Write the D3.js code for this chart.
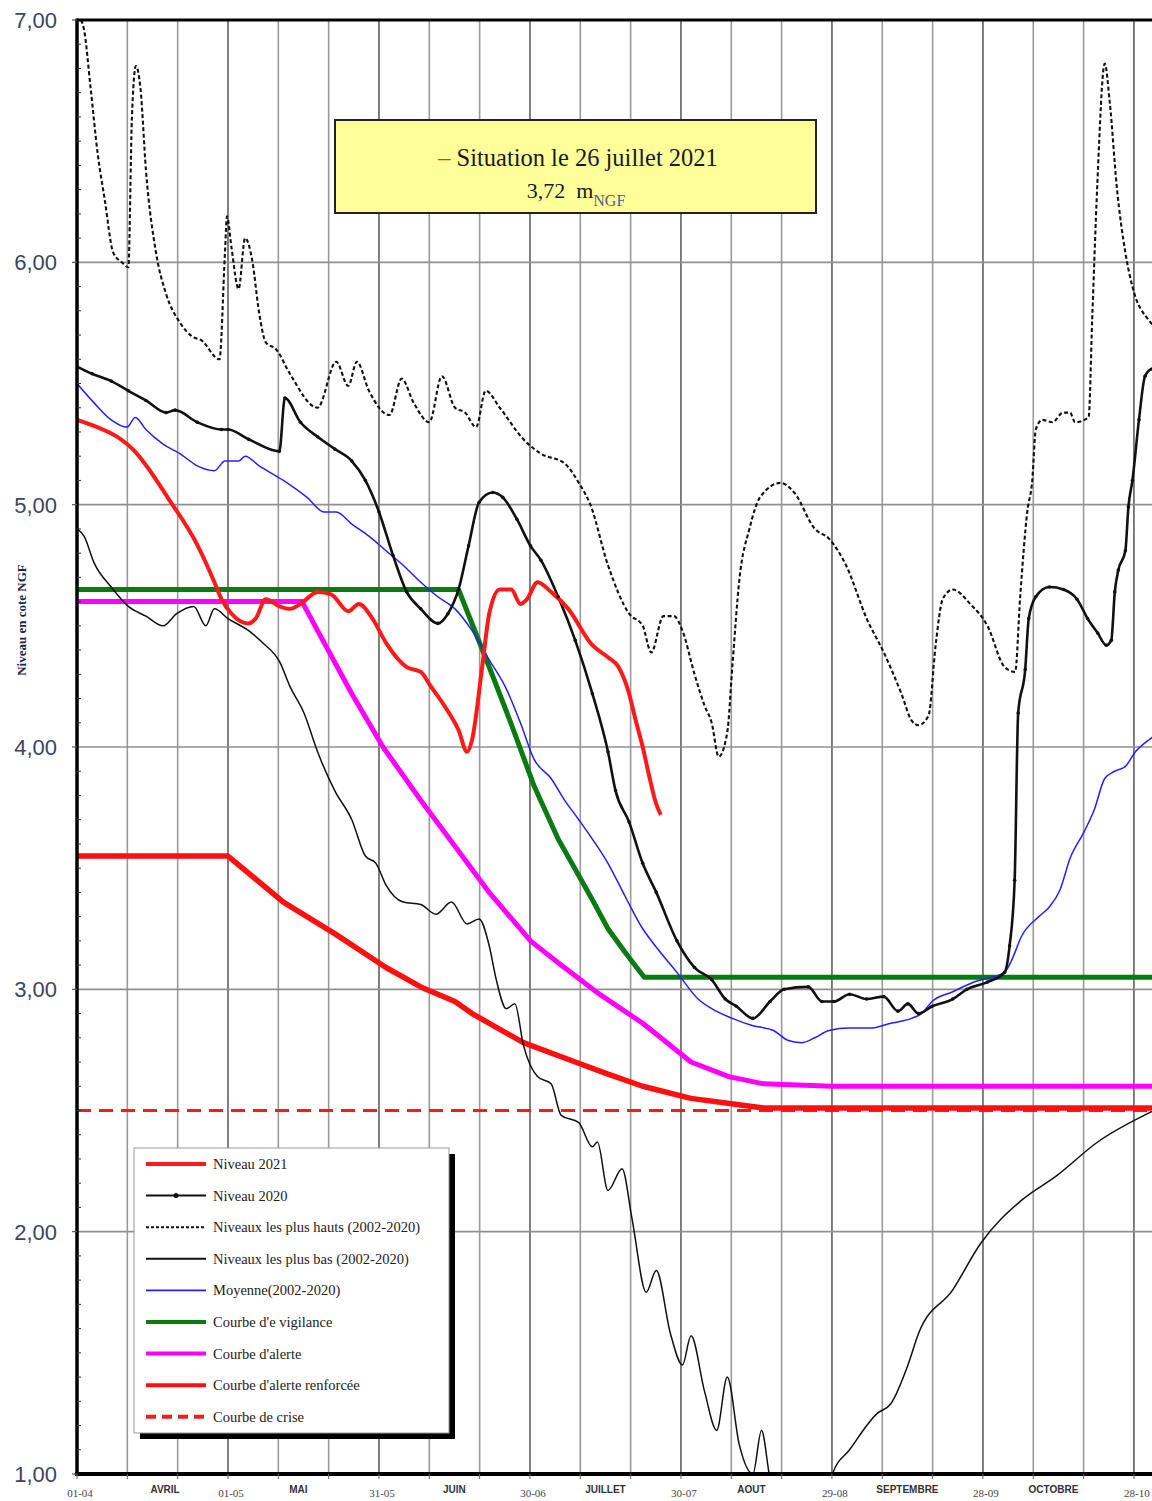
<!DOCTYPE html>
<html><head><meta charset="utf-8">
<script src="https://cdn.jsdelivr.net/npm/d3@7"></script>
<style>body{margin:0;background:#fff}</style>
</head><body><svg id="c" width="1152" height="1501"></svg>
<script>
// ---- data: [day since 01-04, level m NGF] ----
const niveau2021 = [[0,5.35],[4,5.32],[8,5.28],[11.5,5.22],[14.5,5.14],[18,5.03],[24,4.83],[27.3,4.68],[28.7,4.61],[30.7,4.55],[34,4.51],[35.5,4.53],[37.5,4.61],[40.3,4.58],[42.3,4.57],[44.4,4.59],[47.8,4.64],[50.5,4.63],[53.9,4.56],[56,4.59],[58.7,4.53],[61.4,4.43],[65.5,4.33],[68.3,4.31],[70.3,4.25],[73,4.17],[75.8,4.07],[77.5,3.98],[78.5,4.03],[80.5,4.33],[81.9,4.55],[84,4.65],[86.3,4.65],[88.1,4.59],[89.4,4.61],[91.5,4.68],[94.2,4.64],[97.6,4.57],[102.4,4.42],[105.5,4.37],[107.6,4.33],[109.7,4.22],[111,4.11],[112.4,4.00],[113.8,3.87],[115,3.77],[116,3.72]];
const niveau2020 = [[0,5.57],[3,5.54],[6.8,5.51],[10.2,5.47],[13.7,5.43],[17.7,5.38],[19.5,5.39],[23.9,5.34],[28.7,5.31],[30,5.31],[34.1,5.27],[40.2,5.22],[41.3,5.44],[44.4,5.34],[47.8,5.28],[51.2,5.23],[54.6,5.18],[57.3,5.10],[60,4.97],[62.8,4.79],[65.5,4.64],[68.3,4.57],[71.7,4.51],[73.7,4.55],[75.8,4.65],[77.8,4.83],[79.9,5.01],[82.6,5.05],[84.6,5.03],[87.4,4.94],[90.1,4.83],[92.2,4.77],[95.6,4.62],[99,4.44],[102.4,4.22],[105.5,3.98],[107,3.82],[109.7,3.69],[112.4,3.52],[115.1,3.40],[119.2,3.20],[122.7,3.09],[126.1,3.04],[128.8,2.96],[131,2.93],[134.3,2.88],[137.7,2.95],[140.5,3.0],[145.3,3.01],[148,2.95],[150.4,2.95],[153.5,2.98],[156.9,2.96],[160.3,2.97],[163.1,2.91],[165.1,2.94],[167.2,2.90],[169.9,2.93],[174,2.96],[176.8,3.0],[180.9,3.03],[184.3,3.07],[185.3,3.18],[186.3,3.45],[187,4.14],[188.4,4.32],[189.1,4.53],[190.5,4.62],[193.2,4.66],[196,4.65],[198.7,4.61],[200.8,4.53],[202.8,4.47],[204.5,4.42],[205.5,4.44],[206.2,4.64],[206.9,4.73],[208.3,4.81],[208.9,4.99],[209.7,5.10],[211,5.35],[212.2,5.53],[213.6,5.56],[215,5.56]];
const niveauxHauts = [[0.8,7.0],[1.4,6.96],[2.7,6.72],[4.1,6.45],[5.5,6.26],[7.2,6.04],[8.9,6.0],[10.2,5.98],[10.9,6.59],[11.7,6.81],[12.6,6.72],[13.7,6.38],[15.7,6.04],[17.7,5.87],[20.5,5.75],[23.2,5.69],[24.6,5.68],[28.3,5.60],[29.4,6.04],[29.8,6.19],[30.7,6.06],[32.1,5.89],[33.4,6.10],[34.8,6.01],[36.2,5.79],[37.5,5.67],[39.6,5.64],[42.3,5.54],[47.8,5.40],[51.5,5.59],[53.9,5.49],[55.6,5.59],[58,5.47],[62.1,5.37],[64.5,5.52],[66.9,5.42],[70,5.34],[72.5,5.53],[75.1,5.40],[77.1,5.38],[79.3,5.32],[81.2,5.47],[84,5.40],[88.7,5.27],[92.2,5.21],[96.9,5.17],[99.7,5.09],[102,5.0],[105.5,4.75],[109.7,4.55],[112.4,4.50],[114.1,4.39],[116.5,4.54],[118.6,4.54],[120.3,4.48],[122.7,4.30],[124.7,4.17],[126.1,4.10],[127.5,3.96],[129.2,4.06],[130.2,4.33],[131.6,4.69],[133.6,4.90],[135.7,5.03],[139.8,5.09],[142.5,5.05],[146.6,4.90],[149.4,4.86],[152.8,4.75],[156.9,4.53],[160.3,4.39],[163.8,4.22],[165.8,4.11],[167.2,4.09],[169.2,4.13],[170.6,4.42],[172,4.61],[174,4.65],[177.5,4.59],[180.9,4.50],[184.3,4.33],[186.4,4.31],[187.4,4.62],[188.8,4.97],[189.8,5.10],[190.5,5.31],[191.8,5.35],[193.8,5.34],[195.9,5.38],[197.3,5.38],[198.3,5.34],[201,5.36],[201.7,5.76],[202.7,6.31],[204.2,6.82],[205.2,6.66],[206.6,6.31],[208.3,6.04],[209.7,5.90],[213,5.76],[215,5.72]];
const niveauxBas = [[0,4.90],[1.4,4.87],[3.4,4.76],[6.8,4.66],[10.2,4.58],[13.7,4.54],[17.1,4.50],[19.8,4.55],[23.2,4.58],[25.6,4.50],[27.3,4.57],[30,4.53],[34.1,4.48],[36.9,4.43],[40.3,4.35],[42.3,4.25],[45.1,4.14],[47.8,3.98],[51.2,3.82],[54.6,3.70],[57.3,3.55],[59.4,3.52],[61.4,3.43],[64.8,3.36],[68.3,3.35],[71.3,3.31],[74.4,3.36],[77.5,3.27],[79.9,3.29],[81.9,3.18],[83.3,3.04],[85.3,2.92],[87,2.94],[88.7,2.77],[91.5,2.64],[94.2,2.61],[96.2,2.48],[99.7,2.45],[102.4,2.35],[103.4,2.37],[105.5,2.17],[108.3,2.26],[110.3,2.05],[113.1,1.75],[115.1,1.84],[117.9,1.58],[120.3,1.45],[122,1.57],[124.7,1.34],[127.1,1.18],[129.2,1.40],[131.6,1.12],[134.3,1.0],[136,1.18],[137.7,0.98],[140,0.85],[145,0.8],[149,0.92],[150.1,1.0],[153.5,1.10],[159,1.25],[161.7,1.29],[165.1,1.45],[167.2,1.58],[174,1.76],[179.5,1.95],[187.7,2.13],[194.6,2.23],[202.8,2.37],[213,2.49],[215,2.51]];
const moyenne = [[0,5.50],[3.4,5.42],[6.8,5.35],[9.9,5.32],[11.6,5.36],[13.7,5.31],[17.1,5.25],[20.5,5.21],[23.9,5.16],[27.3,5.14],[29.4,5.18],[32.1,5.18],[33.4,5.20],[36.2,5.16],[41,5.10],[45.7,5.03],[49.1,4.97],[51.5,4.97],[54.6,4.92],[58,4.87],[61.4,4.81],[64.8,4.75],[68.3,4.68],[71.7,4.62],[75.1,4.57],[78.5,4.48],[81.9,4.36],[85.3,4.24],[88.1,4.10],[90.8,3.95],[94.2,3.87],[96.9,3.78],[99.7,3.70],[102.4,3.62],[105.5,3.52],[109,3.38],[112.4,3.25],[114.5,3.19],[119.2,3.07],[123.4,2.96],[126.1,2.92],[130.2,2.88],[134.3,2.85],[138.4,2.83],[141.2,2.79],[143.9,2.78],[146.6,2.80],[149.4,2.83],[153.5,2.84],[157.6,2.84],[161.7,2.86],[165.8,2.88],[167.8,2.90],[169.9,2.95],[174,2.99],[178.2,3.03],[184.3,3.07],[185.7,3.12],[187.7,3.22],[191.1,3.30],[193.2,3.34],[195.3,3.41],[197.3,3.54],[200.1,3.65],[202.1,3.74],[204.2,3.87],[206.2,3.90],[208.3,3.92],[210.3,3.98],[213,4.03],[215,4.06]];
const vigilance = [[0,4.65],[75.8,4.65],[81.9,4.33],[86,4.11],[90.8,3.84],[95.6,3.62],[102.4,3.37],[105.5,3.25],[109,3.15],[112.7,3.05],[215,3.05]];
const alerte = [[0,4.60],[44.7,4.60],[47.8,4.48],[54.6,4.22],[60.8,4.00],[68.3,3.78],[75.1,3.59],[81.9,3.40],[90.1,3.20],[95.6,3.11],[103.8,2.98],[112.4,2.86],[122,2.70],[129.5,2.64],[136.4,2.61],[150,2.60],[215,2.60]];
const alerteRenforcee = [[0,3.55],[30,3.55],[41,3.36],[51.2,3.23],[61.4,3.09],[68.3,3.01],[75.1,2.95],[78.5,2.90],[88.7,2.78],[99,2.70],[105.5,2.65],[112.4,2.60],[122,2.55],[133,2.52],[136.4,2.51],[215,2.51]];
const crise = [[0,2.50],[215,2.50]];

const yTicks = [1,2,3,4,5,6,7];
const dateLabels = [[0,"01-04"],[30,"01-05"],[60,"31-05"],[90,"30-06"],[120,"30-07"],[150,"29-08"],[180,"28-09"],[210,"28-10"]];
const monthLabels = [[17.5,"AVRIL"],[44,"MAI"],[75,"JUIN"],[105,"JUILLET"],[134,"AOUT"],[165,"SEPTEMBRE"],[194,"OCTOBRE"]];
const legendNames = ["Niveau 2021","Niveau 2020","Niveaux les plus hauts (2002-2020)","Niveaux les plus bas (2002-2020)","Moyenne(2002-2020)","Courbe d'e vigilance","Courbe d'alerte","Courbe d'alerte renforcée","Courbe de crise"];

// ---- layout ----
const L = 77, T = 20, B = 1474, R = 1152;
const x = d3.scaleLinear().domain([0, 215]).range([L, L + 215 * 5.033]);
const y = d3.scaleLinear().domain([1, 7]).range([B, T]);
const svg = d3.select("#c");

svg.append("defs").append("clipPath").attr("id", "clip")
  .append("rect").attr("x", L).attr("y", T).attr("width", R - L).attr("height", B - T);

// gridlines
const grid = svg.append("g");
grid.selectAll("line.v").data(d3.range(10, 216, 10)).join("line")
  .attr("x1", d => x(d)).attr("x2", d => x(d)).attr("y1", T).attr("y2", B)
  .attr("stroke", d => d % 30 === 0 ? "#606060" : "#9a9a9a").attr("stroke-width", 1.6);
grid.selectAll("line.h").data(yTicks.slice(1, -1)).join("line")
  .attr("x1", L).attr("x2", R).attr("y1", d => y(d)).attr("y2", d => y(d))
  .attr("stroke", "#909090").attr("stroke-width", 1.6);

// series
const plot = svg.append("g").attr("clip-path", "url(#clip)");
const smooth = d3.line().x(d => x(d[0])).y(d => y(d[1])).curve(d3.curveMonotoneX);
const straight = d3.line().x(d => x(d[0])).y(d => y(d[1]));

const series = [
  {name: legendNames[8], data: crise, color: "#ff1a1a", w: 3, dash: "14,8", gen: straight},
  {name: legendNames[7], data: alerteRenforcee, color: "#ff1010", w: 5.5, gen: straight},
  {name: legendNames[6], data: alerte, color: "#ff00ff", w: 5, gen: straight},
  {name: legendNames[5], data: vigilance, color: "#0a7a12", w: 5, gen: straight},
  {name: legendNames[4], data: moyenne, color: "#2020ff", w: 1.5, gen: smooth},
  {name: legendNames[3], data: niveauxBas, color: "#111", w: 1.5, gen: smooth},
  {name: legendNames[2], data: niveauxHauts, color: "#111", w: 2.1, dash: "4,2.5", gen: smooth},
  {name: legendNames[1], data: niveau2020, color: "#111", w: 2.6, gen: smooth},
  {name: legendNames[0], data: niveau2021, color: "#ff1a1a", w: 4, gen: smooth}
];
series.forEach(s => {
  plot.append("path").datum(s.data).attr("d", s.gen)
    .attr("fill", "none").attr("stroke", s.color).attr("stroke-width", s.w)
    .attr("stroke-dasharray", s.dash || null).attr("stroke-linejoin", "round");
});
plot.selectAll("circle.m").data(niveau2020).join("circle")
  .attr("cx", d => x(d[0])).attr("cy", d => y(d[1])).attr("r", 1.8).attr("fill", "#111");

// frame
svg.append("line").attr("x1", L).attr("x2", R).attr("y1", T).attr("y2", T).attr("stroke", "#000").attr("stroke-width", 3);
svg.append("line").attr("x1", L).attr("x2", L).attr("y1", T - 1.5).attr("y2", B + 2).attr("stroke", "#000").attr("stroke-width", 3.5);
svg.append("line").attr("x1", L - 2).attr("x2", R).attr("y1", B).attr("y2", B).attr("stroke", "#000").attr("stroke-width", 4);

// y axis ticks
svg.selectAll("line.minor").data(d3.range(10, 70).map(d => d / 10).filter(d => Math.abs(d - Math.round(d)) > 0.01)).join("line")
  .attr("x1", L).attr("x2", L + 4).attr("y1", d => y(d)).attr("y2", d => y(d)).attr("stroke", "#333").attr("stroke-width", 1);
svg.selectAll("line.major").data(yTicks).join("line")
  .attr("x1", L - 5).attr("x2", L).attr("y1", d => y(d)).attr("y2", d => y(d)).attr("stroke", "#555").attr("stroke-width", 1.2);
svg.selectAll("text.yt").data(yTicks).join("text")
  .attr("x", 57).attr("y", d => y(d) + 8).attr("text-anchor", "end")
  .attr("font-family", "Liberation Sans, Arial, sans-serif").attr("font-size", 22).attr("fill", "#3b4560")
  .text(d => d3.format(".2f")(d).replace(".", ","));

// x axis ticks/labels
svg.selectAll("line.xt").data(d3.range(0, 216, 10)).join("line")
  .attr("x1", d => x(d)).attr("x2", d => x(d)).attr("y1", B).attr("y2", B + 5).attr("stroke", "#666").attr("stroke-width", 1);
svg.selectAll("text.dl").data(dateLabels).join("text")
  .attr("x", d => x(d[0]) + 3).attr("y", 1497).attr("text-anchor", "middle")
  .attr("font-family", "Liberation Serif, serif").attr("font-size", 11).attr("fill", "#444")
  .text(d => d[1]);
svg.selectAll("text.ml").data(monthLabels).join("text")
  .attr("x", d => x(d[0])).attr("y", 1493).attr("text-anchor", "middle")
  .attr("font-family", "Liberation Sans, Arial, sans-serif").attr("font-size", 10).attr("font-weight", "bold").attr("fill", "#333")
  .text(d => d[1]);

// y title
svg.append("text").attr("transform", "translate(26,620) rotate(-90)").attr("text-anchor", "middle")
  .attr("font-family", "Liberation Serif, serif").attr("font-size", 13).attr("font-weight", "bold").attr("fill", "#1c2448")
  .text("Niveau en cote NGF");

// annotation box
const ann = svg.append("g");
ann.append("rect").attr("x", 335).attr("y", 120).attr("width", 481).attr("height", 93)
  .attr("fill", "#ffff99").attr("stroke", "#222").attr("stroke-width", 2);
const t1 = ann.append("text").attr("x", 578).attr("y", 166).attr("text-anchor", "middle")
  .attr("font-family", "Liberation Serif, serif").attr("font-size", 24.5).attr("fill", "#1a1a1a");
t1.append("tspan").attr("fill", "#ff3300").text("– ");
t1.append("tspan").text("Situation le 26 juillet 2021");
const t2 = ann.append("text").attr("x", 576).attr("y", 198).attr("text-anchor", "middle")
  .attr("font-family", "Liberation Serif, serif").attr("font-size", 22).attr("fill", "#1a1a1a");
t2.append("tspan").text("3,72\u00a0\u00a0m");
t2.append("tspan").attr("dy", 8).attr("font-size", 16).attr("fill", "#555a8a").text("NGF");

// legend
const lg = svg.append("g").attr("transform", "translate(134,1148)");
lg.append("rect").attr("x", 6).attr("y", 6).attr("width", 315).attr("height", 285).attr("fill", "#000");
lg.append("rect").attr("x", 0).attr("y", 0).attr("width", 315).attr("height", 285).attr("fill", "#fff").attr("stroke", "#999").attr("stroke-width", 1);
const legendStyles = [
  {color: "#ff1a1a", w: 4}, {color: "#111", w: 2, marker: true}, {color: "#111", w: 2, dash: "3,2"},
  {color: "#111", w: 2}, {color: "#2020ff", w: 1.8}, {color: "#0a7a12", w: 4},
  {color: "#ff00ff", w: 4}, {color: "#ff1010", w: 4}, {color: "#ff1a1a", w: 4, dash: "10,6"}
];
const rows = lg.selectAll("g.row").data(legendNames).join("g")
  .attr("transform", (d, i) => `translate(0,${16 + i * 31.6})`);
rows.append("line").attr("x1", 12).attr("x2", 72).attr("y1", 0).attr("y2", 0)
  .attr("stroke", (d, i) => legendStyles[i].color).attr("stroke-width", (d, i) => legendStyles[i].w)
  .attr("stroke-dasharray", (d, i) => legendStyles[i].dash || null);
rows.filter((d, i) => legendStyles[i].marker).append("circle").attr("cx", 42).attr("cy", 0).attr("r", 2.5).attr("fill", "#111");
rows.append("text").attr("x", 79).attr("y", 5).attr("font-family", "Liberation Serif, serif").attr("font-size", 14.5)
  .attr("fill", "#222").text(d => d);
</script></body></html>
